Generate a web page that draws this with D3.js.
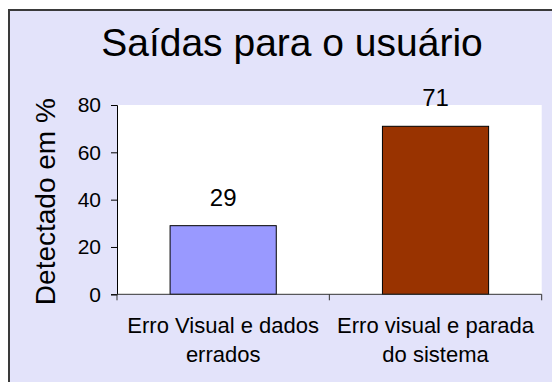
<!DOCTYPE html>
<html>
<head>
<meta charset="utf-8">
<script src="https://cdn.jsdelivr.net/npm/d3@7"></script>
<style>
  html, body { margin: 0; padding: 0; background: #ffffff; }
  svg { display: block; font-family: "Liberation Sans", Arial, sans-serif; }
</style>
</head>
<body>
<svg id="chart" width="552" height="382"></svg>
<script>
// Chart data
const title = "Saídas para o usuário";
const yAxisTitle = "Detectado em %";
const categories = ["Erro Visual e dados errados", "Erro visual e parada do sistema"];
const values = [29, 71];
const barColors = ["#9999FF", "#993300"];
const yTicks = [0, 20, 40, 60, 80];

const svg = d3.select("#chart");

// Chart area: lavender panel with a dark frame on the left and top
svg.append("rect")
  .attr("x", 9).attr("y", 10)
  .attr("width", 600).attr("height", 420)
  .attr("fill", "#E3E3FA")
  .attr("stroke", "#3a3a3a")
  .attr("stroke-width", 2);

const plot = { left: 117, right: 541.7, top: 105, bottom: 294.3 };

svg.append("rect")
  .attr("x", plot.left).attr("y", plot.top)
  .attr("width", plot.right - plot.left)
  .attr("height", plot.bottom - plot.top)
  .attr("fill", "#ffffff");

const x = d3.scaleBand()
  .domain(categories)
  .range([plot.left, plot.right])
  .paddingInner(0.5)
  .paddingOuter(0.25);

const y = d3.scaleLinear()
  .domain([0, 80])
  .range([plot.bottom, plot.top]);

// Bars
svg.append("g").selectAll("rect")
  .data(categories)
  .join("rect")
  .attr("x", d => x(d))
  .attr("y", (d, i) => y(values[i]))
  .attr("width", x.bandwidth())
  .attr("height", (d, i) => y(0) - y(values[i]))
  .attr("fill", (d, i) => barColors[i])
  .attr("stroke", "#000")
  .attr("stroke-width", 1);

// Value labels above bars
svg.append("g").selectAll("text")
  .data(categories)
  .join("text")
  .attr("x", d => x(d) + x.bandwidth() / 2)
  .attr("y", (d, i) => y(values[i]) - 20)
  .attr("text-anchor", "middle")
  .attr("font-size", 24)
  .attr("fill", "#000")
  .text((d, i) => values[i]);

// Y axis
const yAxis = d3.axisLeft(y).tickValues(yTicks).tickSize(6).tickPadding(10);
const gy = svg.append("g")
  .attr("transform", `translate(${plot.left},0)`)
  .call(yAxis);
gy.select(".domain").attr("stroke", "#000");
gy.selectAll(".tick line").attr("stroke", "#000");
gy.selectAll(".tick text")
  .attr("font-size", 21)
  .attr("font-family", "'Liberation Sans', Arial, sans-serif")
  .attr("fill", "#000");

// X axis: baseline with tick marks between categories
const gx = svg.append("g");
gx.append("line")
  .attr("x1", plot.left).attr("x2", plot.right)
  .attr("y1", y(0)).attr("y2", y(0))
  .attr("stroke", "#333");
const step = x.step();
const [r0, r1] = x.range();
const slot = (r1 - r0) / categories.length;
const boundaries = d3.range(categories.length + 1).map(i => r0 + i * slot);
gx.selectAll("line.tick")
  .data(boundaries)
  .join("line")
  .attr("class", "tick")
  .attr("x1", d => d).attr("x2", d => d)
  .attr("y1", y(0)).attr("y2", y(0) + 6)
  .attr("stroke", "#333");

// Category labels, wrapped to two lines
const labelFont = 22;
const lineGap = 28.5;
categories.forEach(c => {
  const t = svg.append("text")
    .attr("x", x(c) + x.bandwidth() / 2)
    .attr("y", 333)
    .attr("text-anchor", "middle")
    .attr("font-size", labelFont)
    .attr("fill", "#000");
  const words = c.split(" ");
  let lines = [], line = [];
  const probe = t.append("tspan");
  words.forEach(w => {
    const next = line.concat(w);
    probe.text(next.join(" "));
    if (probe.node().getComputedTextLength() > step - 6 && line.length) {
      lines.push(line.join(" "));
      line = [w];
    } else {
      line = next;
    }
  });
  lines.push(line.join(" "));
  probe.remove();
  lines.forEach((l, i) => {
    t.append("tspan")
      .attr("x", x(c) + x.bandwidth() / 2)
      .attr("dy", i === 0 ? 0 : lineGap)
      .text(l);
  });
});

// Y axis title
svg.append("text")
  .attr("transform", `translate(55, ${(plot.top + plot.bottom) / 2 + 2}) rotate(-90)`)
  .attr("text-anchor", "middle")
  .attr("font-size", 28)
  .attr("fill", "#000")
  .text(yAxisTitle);

// Chart title
svg.append("text")
  .attr("x", 292)
  .attr("y", 56)
  .attr("text-anchor", "middle")
  .attr("font-size", 39)
  .attr("fill", "#000")
  .text(title);
</script>
</body>
</html>
